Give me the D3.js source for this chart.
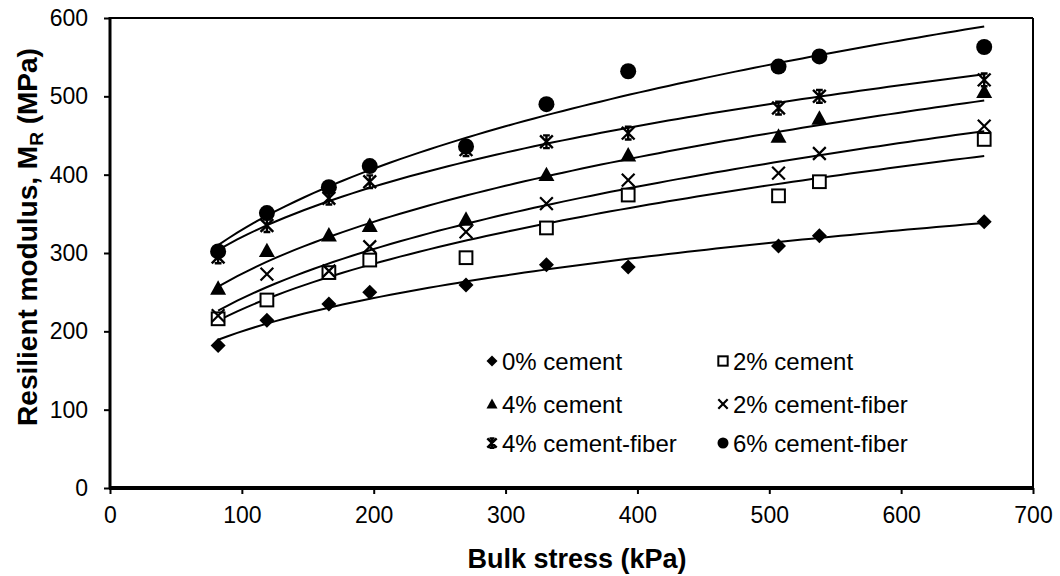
<!DOCTYPE html>
<html>
<head>
<meta charset="utf-8">
<script src="https://cdn.jsdelivr.net/npm/d3@7"></script>
<style>
  html, body { margin: 0; padding: 0; background: #fff; }
  svg { display: block; }
  text { font-family: "Liberation Sans", Arial, sans-serif; fill: #000; }
</style>
</head>
<body>
<svg id="chart" width="1060" height="576"></svg>
<script>
// ---- data ----
const bulkStress = [82, 119, 166, 197, 270, 331, 393, 507, 538, 663];
const cement0 = [182, 214, 235, 250, 259, 285, 282, 309, 322, 340];
const cement2 = [216, 240, 275, 291, 294, 332, 374, 373, 391, 445];
const cement4 = [255, 303, 323, 335, 343, 400, 425, 449, 472, 506];
const fiber2  = [220, 273, 277, 308, 327, 363, 393, 402, 427, 462];
const fiber4  = [295, 335, 370, 391, 432, 442, 453, 485, 500, 521];
const fiber6  = [302, 351, 384, 411, 436, 490, 532, 538, 551, 563];
const seriesNames = ["0% cement", "2% cement", "4% cement", "2% cement-fiber", "4% cement-fiber", "6% cement-fiber"];
const seriesMarkers = ["diamond", "square", "triangle", "x", "star", "circle"];
const xTicks = [0, 100, 200, 300, 400, 500, 600, 700];
const yTicks = [0, 100, 200, 300, 400, 500, 600];

const seriesValues = [cement0, cement2, cement4, fiber2, fiber4, fiber6];
const series = seriesNames.map((name, i) => ({ name, marker: seriesMarkers[i], values: seriesValues[i] }));

const svg = d3.select("#chart");
const x = d3.scaleLinear().domain([0, 700]).range([110, 1033]);
const y = d3.scaleLinear().domain([0, 600]).range([488, 18]);

// frame (top/right thin)
svg.append("line").attr("x1", x(0)).attr("x2", x(700)).attr("y1", y(600)).attr("y2", y(600))
  .attr("stroke", "#000").attr("stroke-width", 2);
svg.append("line").attr("x1", x(700)).attr("x2", x(700)).attr("y1", y(600)).attr("y2", y(0))
  .attr("stroke", "#000").attr("stroke-width", 2);

// axes
const xAxis = svg.append("g").attr("transform", `translate(0,${y(0)})`)
  .call(d3.axisBottom(x).tickValues(xTicks).tickSize(6).tickPadding(13).tickFormat(d3.format("d")));
const yAxis = svg.append("g").attr("transform", `translate(${x(0)},0)`)
  .call(d3.axisLeft(y).tickValues(yTicks).tickSize(6).tickPadding(16).tickFormat(d3.format("d")));
xAxis.select(".domain").attr("stroke-width", 4).attr("d", `M${x(0)-1},0H${x(700)+1}`);
yAxis.select(".domain").attr("stroke-width", 3).attr("d", `M0,${y(0)}V${y(600)-1}`);
[xAxis, yAxis].forEach(g => {
  g.selectAll(".tick line").attr("stroke-width", 2);
  g.selectAll(".tick text").style("font-size", "23px").attr("fill", "#000");
});

// axis titles
svg.append("text").attr("x", 577).attr("y", 568).attr("text-anchor", "middle")
  .style("font-size", "27px").style("font-weight", "bold").text("Bulk stress (kPa)");
const yt = svg.append("text").attr("transform", `translate(37,237) rotate(-90)`)
  .attr("text-anchor", "middle").style("font-size", "28px").style("font-weight", "bold");
yt.append("tspan").text("Resilient modulus, M");
yt.append("tspan").attr("dy", 6).style("font-size", "19px").text("R");
yt.append("tspan").attr("dy", -6).text(" (MPa)");

// power-law trend lines (least squares in log-log space)
function powerFit(xs, ys) {
  const lx = xs.map(Math.log), ly = ys.map(Math.log);
  const mx = d3.mean(lx), my = d3.mean(ly);
  const b = d3.sum(lx, (v, i) => (v - mx) * (ly[i] - my)) / d3.sum(lx, v => (v - mx) ** 2);
  const a = Math.exp(my - b * mx);
  return v => a * Math.pow(v, b);
}
const line = d3.line().x(d => x(d[0])).y(d => y(d[1]));
const xMin = d3.min(bulkStress), xMax = d3.max(bulkStress);
series.forEach(s => {
  const f = powerFit(bulkStress, s.values);
  const pts = d3.range(0, 81).map(i => { const v = xMin + (xMax - xMin) * i / 80; return [v, f(v)]; });
  svg.append("path").datum(pts).attr("d", line).attr("fill", "none").attr("stroke", "#000").attr("stroke-width", 2);
});

// markers
function drawMarker(g, type, cx, cy, s) {
  switch (type) {
    case "diamond":
      g.append("path").attr("d", `M${cx},${cy-s}L${cx+s},${cy}L${cx},${cy+s}L${cx-s},${cy}Z`).attr("fill", "#000");
      break;
    case "square":
      g.append("rect").attr("x", cx - s*0.85).attr("y", cy - s*0.85).attr("width", s*1.7).attr("height", s*1.7)
        .attr("fill", "#fff").attr("stroke", "#000").attr("stroke-width", s > 5 ? 2 : 1.5);
      break;
    case "triangle":
      g.append("path").attr("d", `M${cx},${cy-s}L${cx+s},${cy+s*0.8}L${cx-s},${cy+s*0.8}Z`).attr("fill", "#000");
      break;
    case "x":
      g.append("path").attr("d", `M${cx-s*0.85},${cy-s*0.85}L${cx+s*0.85},${cy+s*0.85}M${cx-s*0.85},${cy+s*0.85}L${cx+s*0.85},${cy-s*0.85}`)
        .attr("stroke", "#000").attr("stroke-width", s > 5 ? 2.2 : 1.6).attr("fill", "none");
      break;
    case "star":
      g.append("path").attr("d", `M${cx-s*0.85},${cy-s*0.85}L${cx+s*0.85},${cy+s*0.85}M${cx-s*0.85},${cy+s*0.85}L${cx+s*0.85},${cy-s*0.85}M${cx},${cy-s*0.9}V${cy+s*0.9}M${cx-s*0.45},${cy-s*0.85}H${cx+s*0.45}M${cx-s*0.45},${cy+s*0.85}H${cx+s*0.45}`)
        .attr("stroke", "#000").attr("stroke-width", s > 5 ? 2.4 : 1.7).attr("fill", "none");
      break;
    case "circle":
      g.append("circle").attr("cx", cx).attr("cy", cy).attr("r", s).attr("fill", "#000");
      break;
  }
}
const markerSize = { diamond: 7.5, square: 7.5, triangle: 8, x: 7.5, star: 7.5, circle: 8 };
series.forEach(s => {
  const g = svg.append("g");
  s.values.forEach((v, i) => drawMarker(g, s.marker, x(bulkStress[i]), y(v), markerSize[s.marker]));
});

// legend
const legendCols = [492, 723];
const legendRows = [361, 404, 443];
series.forEach((s, i) => {
  const col = i % 2, row = Math.floor(i / 2);
  const lx = legendCols[col], ly = legendRows[row];
  const g = svg.append("g");
  drawMarker(g, s.marker, lx, ly, 5.5);
  g.append("text").attr("x", lx + 10).attr("y", ly).attr("dy", "0.36em")
    .style("font-size", "24px").text(s.name);
});
</script>
</body>
</html>
